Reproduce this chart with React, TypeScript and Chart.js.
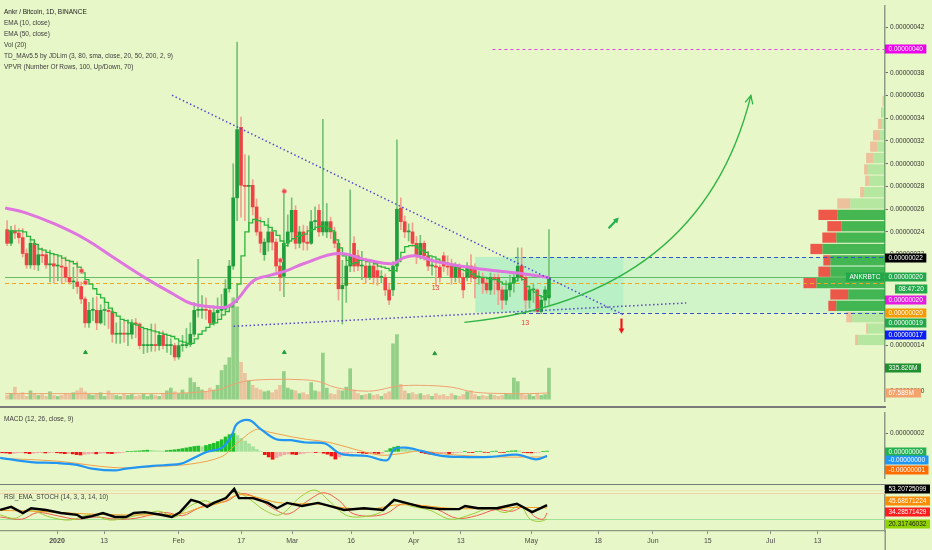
import React, { useEffect, useRef } from 'react';
import { Chart, registerables } from 'chart.js';

Chart.register(...registerables);

const FONT = "'Liberation Sans', Arial, sans-serif";
const BG = '#e8f7c8';
const AXIS_W = 47;
const AXIS_COLOR = '#8e9c86';

// ---------- time axis (day 0 = 2020-01-01) ----------
const FIRST_DAY = -14;
const X_MIN = -14.54;
const X_MAX = 211.2;
const X_TICK_DAYS = [0, 12, 31, 47, 60, 75, 91, 103, 121, 138, 152, 166, 182, 194];
const X_TICK_LABELS = ['2020', '13', 'Feb', '17', 'Mar', '16', 'Apr', '13', 'May', '18', 'Jun', '15', 'Jul', '13'];

// ---------- price candles (satoshi, 1e-8 BTC) ----------
const OPEN = [
  24.2, 23.0, 24.1, 23.9, 23.5, 22.1, 21.1, 23.0, 21.1, 22.0,
  22.0, 21.1, 21.2, 21.0, 21.0, 20.9, 20.0, 19.6, 19.6, 19.2,
  18.1, 16.0, 17.1, 17.1, 16.0, 17.1, 17.1, 17.0, 15.0, 15.0,
  15.1, 15.0, 15.0, 16.0, 15.9, 14.0, 14.0, 14.0, 14.1, 14.0,
  14.9, 14.0, 14.0, 14.0, 13.0, 14.0, 14.0, 14.1, 15.0, 17.1,
  17.1, 17.2, 17.1, 16.0, 16.9, 17.1, 17.2, 19.0, 21.0, 27.0,
  33.2, 28.1, 28.0, 28.1, 26.2, 24.0, 22.0, 23.1, 24.0, 23.1,
  21.0, 20.1, 23.0, 24.0, 25.9, 23.0, 24.0, 23.1, 23.0, 24.9,
  25.9, 24.0, 24.0, 24.9, 24.0, 23.0, 19.0, 19.3, 21.0, 23.0,
  21.9, 21.0, 21.0, 20.0, 21.0, 20.6, 20.0, 20.0, 18.9, 18.9,
  21.0, 26.1, 24.9, 24.0, 24.0, 23.0, 22.0, 23.0, 21.9, 21.0,
  21.0, 20.9, 21.9, 21.0, 21.0, 20.0, 20.9, 20.0, 20.0, 21.0,
  20.9, 20.0, 20.0, 19.5, 18.9, 20.0, 20.0, 18.9, 18.0, 18.9,
  19.5, 20.0, 21.0, 20.0, 18.0, 18.9, 18.9, 17.0, 18.0, 18.2,
];
const HIGH = [
  25.0, 24.5, 24.6, 24.3, 24.3, 22.5, 23.4, 23.3, 22.8, 22.6,
  22.3, 22.4, 22.1, 21.9, 21.7, 21.8, 21.5, 20.9, 21.4, 19.6,
  18.3, 17.8, 18.2, 18.3, 17.6, 18.1, 17.4, 17.3, 16.0, 16.2,
  16.2, 16.3, 16.3, 16.4, 16.0, 15.5, 15.4, 15.9, 15.9, 15.2,
  15.3, 14.8, 14.6, 14.2, 14.3, 14.9, 15.5, 16.0, 17.8, 21.6,
  18.4, 18.2, 17.4, 17.5, 18.2, 18.5, 19.8, 21.5, 30.0, 40.7,
  34.1, 30.8, 30.7, 28.6, 26.9, 25.3, 23.4, 25.2, 24.4, 23.4,
  21.4, 27.8, 25.5, 27.0, 26.3, 24.5, 24.6, 24.5, 25.9, 26.2,
  26.4, 33.9, 26.5, 25.3, 24.4, 23.3, 21.5, 21.8, 27.7, 23.6,
  22.4, 22.3, 21.7, 21.6, 21.3, 21.4, 20.6, 20.3, 19.5, 21.4,
  32.1, 27.0, 25.4, 24.7, 24.8, 23.6, 23.7, 23.2, 22.3, 21.7,
  21.3, 21.1, 22.2, 21.9, 21.6, 21.3, 21.2, 20.4, 21.3, 22.0,
  21.2, 20.5, 20.4, 19.9, 20.4, 20.3, 20.3, 19.2, 19.7, 20.2,
  20.4, 22.6, 22.6, 20.3, 19.2, 19.4, 19.0, 18.3, 19.2, 24.2,
];
const LOW = [
  22.8, 22.8, 23.4, 23.0, 21.8, 20.8, 20.8, 20.7, 20.6, 21.3,
  20.8, 19.6, 19.5, 19.7, 19.5, 19.6, 19.4, 19.0, 18.6, 17.7,
  15.6, 15.6, 16.2, 15.4, 15.9, 15.8, 15.5, 14.3, 14.2, 14.2,
  14.3, 14.0, 14.6, 14.7, 13.7, 13.3, 13.4, 13.5, 13.5, 13.6,
  13.7, 13.4, 13.2, 12.7, 12.8, 13.5, 13.8, 13.9, 14.8, 16.5,
  16.4, 16.3, 15.8, 15.8, 16.3, 16.6, 17.0, 18.7, 20.7, 25.0,
  25.3, 25.0, 24.0, 25.5, 23.7, 22.2, 21.5, 22.3, 22.4, 20.5,
  18.8, 18.3, 22.7, 23.5, 22.5, 22.6, 22.4, 22.4, 22.9, 24.2,
  23.6, 23.7, 23.5, 23.4, 22.6, 18.0, 15.9, 17.8, 20.5, 20.5,
  20.6, 19.8, 19.5, 19.8, 19.4, 19.3, 19.5, 18.4, 17.6, 18.4,
  20.5, 24.2, 23.5, 23.2, 22.7, 21.2, 21.6, 21.5, 20.6, 20.2,
  19.2, 19.6, 20.5, 20.2, 19.4, 19.6, 19.5, 18.2, 19.7, 19.6,
  18.2, 19.4, 18.6, 18.6, 18.5, 18.5, 17.6, 17.2, 17.6, 18.3,
  18.7, 19.7, 19.7, 17.2, 17.3, 17.8, 16.9, 16.8, 17.4, 17.6,
];
const CLOSE = [
  23.0, 24.1, 23.9, 23.5, 22.1, 21.1, 23.0, 21.1, 22.0, 21.9,
  21.1, 21.2, 21.0, 21.0, 20.9, 20.0, 19.6, 19.6, 19.2, 18.1,
  16.0, 17.1, 17.1, 16.0, 17.1, 17.1, 17.0, 15.0, 15.0, 15.1,
  15.0, 15.1, 16.0, 15.9, 14.0, 14.0, 14.0, 14.1, 14.0, 14.9,
  14.0, 14.0, 14.0, 13.0, 14.0, 14.0, 14.1, 15.0, 17.1, 17.1,
  17.2, 17.1, 16.0, 16.9, 17.1, 17.2, 19.0, 21.0, 27.0, 33.0,
  28.1, 28.0, 28.1, 26.2, 24.0, 23.0, 23.1, 24.0, 23.1, 21.0,
  20.0, 23.0, 24.0, 25.9, 23.0, 24.0, 23.1, 23.0, 24.9, 25.0,
  24.0, 24.9, 24.9, 24.0, 23.0, 19.0, 19.3, 21.0, 22.0, 21.0,
  21.0, 21.0, 20.0, 21.0, 20.0, 20.0, 20.0, 18.9, 18.0, 21.0,
  26.0, 24.9, 24.0, 24.0, 23.0, 22.0, 23.0, 21.9, 21.0, 21.0,
  20.9, 20.0, 21.0, 20.9, 20.0, 20.9, 20.0, 18.9, 21.0, 20.0,
  19.9, 20.0, 19.5, 18.9, 20.0, 19.9, 18.9, 18.0, 18.9, 19.5,
  20.0, 21.0, 20.0, 18.0, 18.9, 18.9, 17.0, 18.0, 18.9, 20.0,
];
// volume, millions of ANKR
const VOLUME = [
  40, 60, 130, 50, 70, 30, 90, 60, 40, 50,
  30, 80, 40, 30, 40, 60, 50, 70, 90, 120,
  80, 50, 40, 60, 70, 30, 90, 50, 40, 30,
  60, 40, 50, 30, 40, 60, 30, 50, 40, 30,
  60, 90, 120, 80, 60, 100, 60, 230, 180, 130,
  100, 80, 120, 100, 150, 310, 370, 450, 1100, 1000,
  400, 280, 200, 150, 120, 100, 80, 90, 70, 100,
  150, 300, 120, 100, 90, 60, 70, 50, 180, 90,
  80, 500, 120, 60, 50, 100, 90, 130, 330, 100,
  60, 40, 50, 60, 40, 50, 30, 60, 80, 600,
  700, 160, 90, 60, 70, 50, 60, 40, 50, 30,
  60, 40, 50, 30, 60, 40, 30, 50, 80, 90,
  50, 30, 40, 30, 50, 40, 30, 40, 60, 50,
  230, 190, 60, 40, 50, 30, 60, 40, 50, 336,
];
const VOL_MA: [number, number][] = [
  [-14.5, 60], [10, 60], [30, 65], [40, 100], [44, 160], [48, 200], [55, 215], [62, 210],
  [66, 190], [70, 130], [75, 95], [80, 90], [86, 140], [92, 150], [100, 130], [106, 75],
  [115, 60], [120, 60], [125, 67.6],
];
// EMA 10 (drawn stepped) and EMA 50
const EMA10 = [
  24.1, 24.1, 24.1, 24.1, 24.0, 23.6, 23.3, 22.9, 22.5, 22.4,
  22.2, 22.1, 22.0, 21.9, 21.7, 21.5, 21.4, 21.2, 20.9, 20.4,
  19.8, 19.4, 19.0, 18.5, 18.2, 17.8, 17.3, 16.9, 16.6, 16.3,
  16.2, 16.0, 15.9, 15.8, 15.6, 15.5, 15.4, 15.3, 15.2, 15.1,
  15.0, 14.9, 14.8, 14.6, 14.4, 14.3, 14.2, 14.2, 14.6, 15.0,
  15.3, 15.6, 15.9, 16.0, 16.3, 16.7, 17.0, 17.4, 17.8, 19.4,
  21.9, 24.0, 24.8, 25.1, 25.0, 24.9, 24.6, 24.4, 24.1, 23.7,
  23.2, 22.8, 23.2, 23.4, 23.6, 23.7, 23.8, 24.1, 24.2, 24.4,
  24.5, 24.5, 24.3, 24.1, 23.3, 22.6, 21.9, 21.5, 21.2, 21.3,
  21.5, 21.5, 21.4, 21.4, 21.2, 21.0, 20.9, 20.8, 20.6, 20.6,
  21.4, 22.2, 22.7, 22.8, 22.8, 22.6, 22.4, 22.2, 21.9, 21.8,
  21.6, 21.4, 21.3, 21.2, 21.0, 20.9, 20.7, 20.6, 20.5, 20.3,
  20.1, 20.0, 20.0, 19.9, 19.8, 19.8, 19.6, 19.4, 19.4, 19.5,
  19.7, 20.0, 19.8, 19.2, 18.9, 18.7, 18.4, 18.3, 18.5, 18.9,
];
const EMA50: [number, number][] = [
  [-14.5, 26.1], [-9.4, 25.7], [-1.8, 24.7], [5.9, 23.4], [13.5, 21.7], [21.2, 20.0], [28.8, 18.5],
  [33.2, 17.7], [39.0, 17.4], [42.3, 17.4], [44.9, 18.0], [49.2, 19.7], [53.6, 20.2], [57.7, 20.6],
  [62.0, 21.2], [70.9, 22.1], [78.6, 21.5], [85.0, 21.2], [87.5, 21.7], [90.8, 21.9], [96.0, 21.4],
  [106.0, 20.8], [116.3, 20.4], [125.0, 20.0],
];
const RED_DOTS: [number, number][] = [[5.1, 20.57], [6.1, 19.54], [56.1, 21.5], [57.1, 27.57]];
const GREEN_MARKS: [number, number][] = [[6.1, 13.4], [57.1, 13.4], [95.7, 13.3]];
const RED_COUNTS: [number, number][] = [[95.9, 19.1], [118.9, 15.95]];

// price axis
const PRICE_MIN = 9.12;
const PRICE_MAX = 43.88;
const PRICE_TICKS = [10, 14, 16, 18, 20, 22, 24, 26, 28, 30, 32, 34, 36, 38, 40, 42];
const VOL_MIN = -21;
const VOL_MAX = 4263;

// volume profile (rows of 1 sat, lower bound; relative volume, full plot width = VP_MAX)
const VP_LOW = [14, 15, 16, 17, 18, 19, 20, 21, 22, 23, 24, 25, 26, 27, 28, 29, 30, 31, 32, 33, 34, 35];
const VP_UP = [27, 17, 33, 49, 37, 69, 55, 55, 63, 49, 44, 48, 35, 21, 16, 17, 12, 8, 5, 3, 3, 2];
const VP_DOWN = [3, 2, 6, 8, 18, 13, 12, 7, 12, 14, 14, 19, 13, 4, 4, 4, 7, 7, 7, 4, 1, 0.5];
const VP_MAX = 885;
const VA_LOW = 17;
const VA_HIGH = 26;

// drawings (day, price)
const TRENDS: [number, number, number, number][] = [[28.3, 36.02, 144.1, 16.72], [44.1, 15.7, 160.2, 17.75]];
const ZONE_D = [106.1, 144.1, 211.2];
const ZONE_P = [16.9, 21.8];
const CURVE = [103.3, 16.04, 164.0, 18.26, 176.8, 36.0];
const GREEN_ARROW = [140.3, 24.32, 142.9, 25.26];
const RED_ARROW = [143.6, 16.38, 143.6, 15.05];

// right-hand tags
const PRICE_TAG_TEXT = ['0.00000040', '0.00000022', '0.00000020', '0.00000020', '0.00000020', '0.00000019', '0.00000017'];
const PRICE_TAG_AT = [40.1, 21.75, 20.05, 18.0, 16.9, 15.95, 14.93];
const PRICE_TAG_BG = ['#ee00ee', '#000000', '#22a84a', '#e31ee0', '#f59a00', '#22a84a', '#0b1ff2'];
const VOL_TAG_TEXT = ['335.826M', '67.589M'];
const VOL_TAG_AT = [335.826, 67.589];
const VOL_TAG_BG = ['#1f8f30', '#f5a36c'];

// ---------- MACD ----------
const MACD_MIN = -2.82;
const MACD_MAX = 4.18;
const MACD_TICKS = [-2, 0, 2];
const HIST = [
  -0.10, -0.12, -0.18, -0.15, -0.10, -0.08, -0.12, -0.20, -0.15, -0.10,
  -0.08, -0.12, -0.10, -0.05, -0.10, -0.14, -0.20, -0.16, -0.22, -0.30,
  -0.34, -0.28, -0.22, -0.18, -0.22, -0.16, -0.12, -0.16, -0.20, -0.15,
  -0.10, -0.05, 0.04, 0.05, 0.08, 0.10, 0.14, 0.18, 0.16, 0.12,
  0.10, 0.08, 0.14, 0.18, 0.22, 0.28, 0.35, 0.42, 0.50, 0.58,
  0.62, 0.55, 0.68, 0.80, 0.92, 1.10, 1.30, 1.60, 1.85, 2.00,
  1.75, 1.45, 1.15, 0.85, 0.55, 0.25, 0.05, -0.30, -0.55, -0.80,
  -0.62, -0.45, -0.30, -0.22, -0.25, -0.30, -0.22, -0.15, -0.08, -0.05,
  -0.08, -0.05, -0.15, -0.25, -0.45, -0.78, -0.55, -0.35, -0.20, -0.10,
  -0.05, -0.08, -0.15, -0.18, -0.12, -0.15, -0.18, -0.12, 0.10, 0.35,
  0.50, 0.60, 0.45, 0.32, 0.20, 0.10, 0.05, -0.10, -0.18, -0.25,
  -0.28, -0.22, -0.18, -0.15, -0.20, -0.12, -0.08, -0.05, 0.04, -0.06,
  -0.08, 0.05, 0.06, -0.04, -0.06, 0.05, 0.08, -0.05, -0.07, 0.04,
  0.10, 0.12, 0.08, -0.06, -0.10, -0.12, -0.08, -0.05, 0.04, 0.08,
];
const MACD_LINE: [number, number][] = [
  [-14.5, -0.64], [-6.6, -1.1], [0, -1.2], [5.1, -1.4], [8.9, -1.8], [14.8, -2.0], [17.6, -1.8],
  [24.5, -1.5], [31.4, -1.3], [34.2, -0.8], [38.3, 0], [42.1, 0.45], [44.6, 1.8], [45.9, 3.0],
  [49.0, 3.4], [51.8, 2.5], [55.9, 1.35], [59.7, 1.25], [63.5, 1.0], [68.4, 0.9], [71.4, 0],
  [73.2, -0.3], [79.1, -0.45], [84.2, -0.9], [86.0, 0.3], [89.0, 0.45], [92.9, 0.1], [97.7, -0.4],
  [102.6, -0.55], [110.5, -0.55], [117.3, -0.3], [122.2, -0.8], [125.0, -0.45],
];
const SIGNAL_LINE: [number, number][] = [
  [-14.5, -0.7], [0, -1.0], [14.8, -1.7], [24.5, -1.6], [34.2, -1.3], [42.1, -0.5], [45.9, 0.9],
  [50.8, 2.4], [54.3, 2.1], [62.0, 1.45], [69.6, 1.0], [75.3, 0.35], [82.4, -0.35], [87.5, -0.2],
  [92.6, 0.1], [100.3, -0.3], [113.0, -0.55], [125.0, -0.55],
];
const MACD_TAG_TEXT = ['0.00000000', '-0.00000000', '-0.00000001'];
const MACD_TAG_AT = [0, -0.91, -2.0];
const MACD_TAG_BG = ['#22b14c', '#2196f3', '#ff6d00'];

// ---------- RSI / EMA / STOCH ----------
const RSI_MIN = -6.8;
const RSI_MAX = 100;
const RSI_LEVELS = [86, 80, 20];
const RSI_LINE: [number, number][] = [
  [-14.5, 41], [-11.7, 48], [-8.7, 34], [-6.6, 45], [-2.8, 41], [1.0, 34], [5.1, 30], [6.4, 23],
  [8.9, 27], [11.7, 34], [14.8, 25], [17.6, 25], [19.6, 34], [22.4, 36], [26.5, 30], [29.3, 25],
  [31.4, 36], [34.2, 64], [36.2, 59], [38.3, 48], [40.0, 57], [43.1, 68], [45.2, 89], [46.4, 68],
  [50.0, 68], [53.8, 57], [56.1, 45], [58.7, 57], [62.5, 50], [66.6, 57], [70.4, 48], [73.2, 41],
  [78.3, 45], [83.2, 41], [86.0, 64], [89.0, 57], [92.9, 48], [97.7, 43], [102.6, 43], [104.1, 50],
  [107.4, 45], [112.2, 45], [117.3, 55], [121.2, 36], [125.0, 52],
];
const RSI_EMA: [number, number][] = [
  [-14.5, 40], [-5, 38], [5, 33], [15, 30], [25, 30], [32, 33], [36, 45], [42, 58], [46, 75],
  [50, 72], [55, 60], [60, 55], [66, 55], [72, 47], [80, 43], [86, 52], [92, 52], [100, 45],
  [110, 44], [118, 47], [125, 45.7],
];
const STOCH_K: [number, number][] = [
  [-14.5, 30], [-10.7, 22], [-6.9, 40], [-1.8, 25], [3.3, 18], [8.4, 30], [13.5, 18], [18.6, 25],
  [23.7, 35], [26.3, 38], [30.1, 25], [33.9, 50], [37.8, 62], [40.3, 55], [45.4, 82], [49.2, 65],
  [53.0, 40], [56.9, 30], [62.0, 70], [65.8, 86], [69.6, 60], [73.5, 30], [77.3, 25], [82.4, 35],
  [86.2, 60], [90.1, 50], [95.2, 40], [100.3, 20], [105.4, 30], [110.5, 45], [114.3, 35],
  [118.1, 50], [120.7, 20], [123.2, 15], [125.0, 20.3],
];
const STOCH_D: [number, number][] = [
  [-14.5, 25], [-9, 20], [-5, 35], [0, 28], [5, 20], [10, 25], [15, 20], [20, 22], [25, 32],
  [28, 35], [32, 28], [36, 45], [40, 58], [43, 60], [47, 78], [51, 68], [55, 45], [59, 32],
  [64, 62], [68, 80], [72, 62], [75, 35], [79, 27], [84, 33], [88, 55], [92, 52], [97, 42],
  [102, 22], [107, 28], [112, 42], [116, 38], [119, 47], [122, 25], [124, 20], [125, 34.3],
];
const RSI_TAG_TEXT = ['53.20725099', '45.68671224', '34.28571429', '20.31746032'];
const RSI_TAG_AT = [88.6, 61.4, 36.4, 9.1];
const RSI_TAG_BG = ['#000000', '#ff8c00', '#ff1c1c', '#92d400'];
const RSI_TAG_FG = ['#ffffff', '#ffffff', '#ffffff', '#1a1a1a'];

const LEGEND = [
  'Ankr / Bitcoin, 1D, BINANCE',
  'EMA (10, close)',
  'EMA (50, close)',
  'Vol (20)',
  'TD_MAv5.5 by JDLim (3, 80, sma, close, 20, 50, 200, 2, 9)',
  'VPVR (Number Of Rows, 100, Up/Down, 70)',
];

const fmtPrice = (v: number) => (v / 1e8).toFixed(8);
const pts = (arr: [number, number][]) => arr.map(([x, y]) => ({ x, y }));
const DAYS = OPEN.map((_, i) => FIRST_DAY + i);

function tag(ctx: any, x: number, y: number, text: string, bg: string, fg: string, minW = 0) {
  ctx.save();
  ctx.font = `6.5px ${FONT}`;
  const w = Math.max(minW, ctx.measureText(text).width + 7);
  const yy = Math.round(y);
  ctx.fillStyle = bg;
  ctx.fillRect(x, yy - 4.5, w, 9);
  ctx.fillStyle = fg;
  ctx.textAlign = 'left';
  ctx.textBaseline = 'middle';
  ctx.fillText(text, x + 3.5, yy + 0.5);
  ctx.restore();
}

function arrow(ctx: any, x0: number, y0: number, x1: number, y1: number, color: string, head: number, width: number) {
  const ang = Math.atan2(y1 - y0, x1 - x0);
  ctx.save();
  ctx.strokeStyle = color;
  ctx.fillStyle = color;
  ctx.lineWidth = width;
  ctx.beginPath();
  ctx.moveTo(x0, y0);
  ctx.lineTo(x1 - Math.cos(ang) * head * 0.6, y1 - Math.sin(ang) * head * 0.6);
  ctx.stroke();
  ctx.beginPath();
  ctx.moveTo(x1, y1);
  ctx.lineTo(x1 - head * Math.cos(ang - 0.5), y1 - head * Math.sin(ang - 0.5));
  ctx.lineTo(x1 - head * Math.cos(ang + 0.5), y1 - head * Math.sin(ang + 0.5));
  ctx.closePath();
  ctx.fill();
  ctx.restore();
}

const yAxisBase = (extra: any) => ({
  type: 'linear',
  position: 'right',
  afterFit: (s: any) => { s.width = AXIS_W; },
  grid: { drawOnChartArea: false, drawTicks: true, tickLength: 3, tickColor: '#6d6d6d' },
  border: { color: AXIS_COLOR, width: 1.5 },
  ticks: { font: { size: 6.5, family: FONT }, color: '#333', padding: 2 },
  ...extra,
});

const mainPlugin = {
  id: 'mainDecor',
  beforeDatasetsDraw(chart: any) {
    const { ctx, chartArea: a, scales } = chart;
    const x = scales.x, y = scales.y;
    ctx.save();
    ctx.beginPath();
    ctx.rect(a.left, a.top, a.right - a.left, a.bottom - a.top);
    ctx.clip();
    // zone boxes
    const yz0 = y.getPixelForValue(ZONE_P[1]);
    const yz1 = y.getPixelForValue(ZONE_P[0]);
    ctx.fillStyle = 'rgba(0, 215, 190, 0.20)';
    ctx.fillRect(x.getPixelForValue(ZONE_D[0]), yz0, x.getPixelForValue(ZONE_D[1]) - x.getPixelForValue(ZONE_D[0]), yz1 - yz0);
    ctx.fillStyle = 'rgba(0, 215, 200, 0.10)';
    ctx.fillRect(x.getPixelForValue(ZONE_D[1]), yz0, x.getPixelForValue(ZONE_D[2]) - x.getPixelForValue(ZONE_D[1]), yz1 - yz0);
    // volume profile, anchored to the price axis, widths relative to the plot width
    const unit = (a.right - a.left) / VP_MAX;
    VP_LOW.forEach((lo, i) => {
      const yt = y.getPixelForValue(lo + 0.95);
      const yb = y.getPixelForValue(lo + 0.05);
      const inVA = lo >= VA_LOW && lo < VA_HIGH;
      const xr = a.right;
      const xu = xr - VP_UP[i] * unit;
      const xd = xu - VP_DOWN[i] * unit;
      ctx.fillStyle = inVA ? 'rgba(40, 170, 60, 0.85)' : 'rgba(90, 200, 90, 0.35)';
      ctx.fillRect(xu, yt, xr - xu, yb - yt);
      ctx.fillStyle = inVA ? 'rgba(238, 60, 50, 0.85)' : 'rgba(240, 150, 120, 0.55)';
      ctx.fillRect(xd, yt, xu - xd, yb - yt);
    });
    // horizontal price lines
    const hline = (p: number, d0: number, color: string, dash: number[], w = 1) => {
      const yy = Math.round(y.getPixelForValue(p)) + 0.5;
      ctx.save();
      ctx.strokeStyle = color;
      ctx.lineWidth = w;
      ctx.setLineDash(dash);
      ctx.beginPath();
      ctx.moveTo(x.getPixelForValue(d0), yy);
      ctx.lineTo(a.right, yy);
      ctx.stroke();
      ctx.restore();
    };
    hline(20.05, X_MIN, 'rgba(60, 170, 70, 0.75)', []);
    hline(19.5, X_MIN, '#f3a622', [4, 3]);
    hline(40.1, 110.5, '#e246e2', [3, 3]);
    hline(ZONE_P[1], 116.3, '#3553c9', [4, 3]);
    hline(ZONE_P[0], 116.3, '#3553c9', [4, 3]);
    ctx.restore();
  },
  afterDatasetsDraw(chart: any) {
    const { ctx, chartArea: a, scales } = chart;
    const x = scales.x, y = scales.y;
    const px = (d: number) => x.getPixelForValue(d);
    const py = (p: number) => y.getPixelForValue(p);
    ctx.save();
    ctx.beginPath();
    ctx.rect(a.left, a.top, a.right - a.left, a.bottom - a.top);
    ctx.clip();
    // dotted trendlines
    ctx.strokeStyle = '#5547d0';
    ctx.lineWidth = 1.5;
    ctx.setLineDash([1.5, 2.5]);
    TRENDS.forEach(([d0, p0, d1, p1]) => {
      ctx.beginPath();
      ctx.moveTo(px(d0), py(p0));
      ctx.lineTo(px(d1), py(p1));
      ctx.stroke();
    });
    ctx.setLineDash([]);
    // projected curve
    const [cd0, cp0, cd1, cp1, cd2, cp2] = CURVE;
    ctx.strokeStyle = '#2fb545';
    ctx.lineWidth = 1.3;
    ctx.beginPath();
    ctx.moveTo(px(cd0), py(cp0));
    ctx.quadraticCurveTo(px(cd1), py(cp1), px(cd2), py(cp2));
    ctx.stroke();
    const ex = px(cd2), ey = py(cp2);
    const ang = Math.atan2(ey - py(cp1), ex - px(cd1));
    ctx.beginPath();
    ctx.moveTo(ex - 9 * Math.cos(ang - 0.45), ey - 9 * Math.sin(ang - 0.45));
    ctx.lineTo(ex, ey);
    ctx.lineTo(ex - 9 * Math.cos(ang + 0.45), ey - 9 * Math.sin(ang + 0.45));
    ctx.stroke();
    // small arrows
    arrow(ctx, px(GREEN_ARROW[0]), py(GREEN_ARROW[1]), px(GREEN_ARROW[2]), py(GREEN_ARROW[3]), '#22b14c', 6, 2.2);
    arrow(ctx, px(RED_ARROW[0]), py(RED_ARROW[1]), px(RED_ARROW[2]), py(RED_ARROW[3]), '#f01818', 6, 2.2);
    // TD 13 counts
    ctx.fillStyle = '#e53935';
    ctx.font = `7px ${FONT}`;
    ctx.textAlign = 'center';
    ctx.textBaseline = 'middle';
    RED_COUNTS.forEach(([d, p]) => ctx.fillText('13', px(d), py(p)));
    ctx.restore();
  },
  afterDraw(chart: any) {
    const { ctx, chartArea: a, scales } = chart;
    const y = scales.y, yv = scales.yv;
    const xr = a.right;
    PRICE_TAG_TEXT.forEach((t, i) => tag(ctx, xr, y.getPixelForValue(PRICE_TAG_AT[i]), t, PRICE_TAG_BG[i], '#fff', 41));
    ctx.save();
    ctx.font = `6.5px ${FONT}`;
    const wA = ctx.measureText('ANKRBTC').width + 7;
    ctx.restore();
    tag(ctx, xr - wA - 1, y.getPixelForValue(20.05), 'ANKRBTC', '#22a84a', '#fff');
    tag(ctx, xr + 10, y.getPixelForValue(18.95), '08:47:20', '#22a84a', '#fff');
    VOL_TAG_TEXT.forEach((t, i) => tag(ctx, xr, yv.getPixelForValue(VOL_TAG_AT[i]), t, VOL_TAG_BG[i], '#fff', 36));
  },
};

const macdPlugin = {
  id: 'macdDecor',
  afterDraw(chart: any) {
    const { ctx, chartArea: a, scales } = chart;
    MACD_TAG_TEXT.forEach((t, i) => tag(ctx, a.right, scales.y.getPixelForValue(MACD_TAG_AT[i]), t, MACD_TAG_BG[i], '#fff', 41));
  },
};

const rsiPlugin = {
  id: 'rsiDecor',
  beforeDatasetsDraw(chart: any) {
    const { ctx, chartArea: a, scales } = chart;
    const colors = ['#efe3b6', '#f2d2a6', '#9fe39a'];
    RSI_LEVELS.forEach((lv, i) => {
      const yy = Math.round(scales.y.getPixelForValue(lv)) + 0.5;
      ctx.save();
      ctx.strokeStyle = colors[i];
      ctx.lineWidth = 1.2;
      ctx.beginPath();
      ctx.moveTo(a.left, yy);
      ctx.lineTo(a.right, yy);
      ctx.stroke();
      ctx.restore();
    });
  },
  afterDraw(chart: any) {
    const { ctx, chartArea: a, scales } = chart;
    RSI_TAG_TEXT.forEach((t, i) => tag(ctx, a.right, scales.y.getPixelForValue(RSI_TAG_AT[i]), t, RSI_TAG_BG[i], RSI_TAG_FG[i], 43));
    ctx.save();
    ctx.strokeStyle = AXIS_COLOR;
    ctx.lineWidth = 1.5;
    ctx.beginPath();
    ctx.moveTo(a.right + 0.25, a.bottom);
    ctx.lineTo(a.right + 0.25, chart.height);
    ctx.stroke();
    ctx.restore();
  },
};

const baseOptions = {
  responsive: false,
  animation: false,
  devicePixelRatio: 1,
  events: [],
  layout: { padding: 0 },
  plugins: { legend: { display: false }, tooltip: { enabled: false } },
};

export default function App() {
  const r1 = useRef<HTMLCanvasElement>(null);
  const r2 = useRef<HTMLCanvasElement>(null);
  const r3 = useRef<HTMLCanvasElement>(null);

  useEffect(() => {
    document.body.style.margin = '0';
    const up = CLOSE.map((c, i) => c >= OPEN[i]);
    const xHidden = { type: 'linear', min: X_MIN, max: X_MAX, display: false, offset: false };

    const c1 = new Chart(r1.current as any, {
      type: 'bar',
      data: {
        datasets: [
          {
            type: 'bar', data: DAYS.map((d, i) => ({ x: d, y: VOLUME[i] })), xAxisID: 'x', yAxisID: 'yv',
            backgroundColor: up.map((u) => (u ? 'rgba(76, 175, 80, 0.55)' : 'rgba(239, 100, 80, 0.35)')),
            barThickness: 3, grouped: false, order: 10,
          },
          {
            type: 'line', data: pts(VOL_MA), xAxisID: 'x', yAxisID: 'yv', borderColor: '#f0a072',
            borderWidth: 1, pointRadius: 0, tension: 0.35, order: 9,
          },
          {
            type: 'bar', data: DAYS.map((d, i) => ({ x: d, y: [LOW[i], HIGH[i]] })), xAxisID: 'x', yAxisID: 'y',
            backgroundColor: up.map((u) => (u ? '#76c276' : '#f0a08e')), barThickness: 1, grouped: false, order: 6,
          },
          {
            type: 'bar', data: DAYS.map((d, i) => ({ x: d, y: [Math.min(OPEN[i], CLOSE[i]), Math.max(OPEN[i], CLOSE[i])] })),
            xAxisID: 'x', yAxisID: 'y', backgroundColor: up.map((u) => (u ? '#1f9e3b' : '#ee4343')),
            barThickness: 3, minBarLength: 1, grouped: false, order: 5,
          },
          {
            type: 'line', data: DAYS.map((d, i) => ({ x: d, y: EMA10[i] })), xAxisID: 'x', yAxisID: 'y',
            stepped: true, borderColor: '#2cb53c', borderWidth: 1.3, pointRadius: 0, order: 4,
          },
          {
            type: 'line', data: pts(EMA50), xAxisID: 'x', yAxisID: 'y', borderColor: '#df76df',
            borderWidth: 3, pointRadius: 0, tension: 0.4, order: 3,
          },
          {
            type: 'line', data: pts(RED_DOTS), xAxisID: 'x', yAxisID: 'y', showLine: false,
            pointRadius: 2.3, pointBackgroundColor: '#e84a4a', pointBorderColor: '#f5a0a0', pointBorderWidth: 1, order: 1,
          },
          {
            type: 'line', data: pts(GREEN_MARKS), xAxisID: 'x', yAxisID: 'y', showLine: false,
            pointStyle: 'triangle', pointRadius: 2.2, pointBackgroundColor: '#1e9e3a', pointBorderColor: '#1e9e3a', order: 1,
          },
        ],
      },
      options: {
        ...baseOptions,
        scales: {
          x: xHidden,
          y: yAxisBase({
            min: PRICE_MIN, max: PRICE_MAX,
            afterBuildTicks: (s: any) => { s.ticks = PRICE_TICKS.map((v) => ({ value: v })); },
            ticks: { font: { size: 6.5, family: FONT }, color: '#333', padding: 2, callback: (v: any) => fmtPrice(Number(v)) },
          }),
          yv: { type: 'linear', position: 'right', display: false, min: VOL_MIN, max: VOL_MAX },
        },
      } as any,
      plugins: [mainPlugin],
    } as any);

    const c2 = new Chart(r2.current as any, {
      type: 'bar',
      data: {
        datasets: [
          {
            type: 'bar', data: DAYS.map((d, i) => ({ x: d, y: HIST[i] })), xAxisID: 'x', yAxisID: 'y',
            backgroundColor: HIST.map((h, i) => {
              const prev = i > 0 ? HIST[i - 1] : h;
              if (h >= 0) return h >= prev ? '#1fbf2a' : '#a6e09c';
              return h <= prev ? '#f01414' : '#f3a8a8';
            }),
            barThickness: 3, grouped: false, order: 5,
          },
          {
            type: 'line', data: pts(SIGNAL_LINE), xAxisID: 'x', yAxisID: 'y', borderColor: '#f2a04c',
            borderWidth: 1, pointRadius: 0, tension: 0.35, order: 3,
          },
          {
            type: 'line', data: pts(MACD_LINE), xAxisID: 'x', yAxisID: 'y', borderColor: '#2196f3',
            borderWidth: 2.2, pointRadius: 0, tension: 0.35, order: 2,
          },
        ],
      },
      options: {
        ...baseOptions,
        scales: {
          x: xHidden,
          y: yAxisBase({
            min: MACD_MIN, max: MACD_MAX,
            afterBuildTicks: (s: any) => { s.ticks = MACD_TICKS.map((v) => ({ value: v })); },
            ticks: { font: { size: 6.5, family: FONT }, color: '#333', padding: 2, callback: (v: any) => fmtPrice(Number(v)) },
          }),
        },
      } as any,
      plugins: [macdPlugin],
    } as any);

    const c3 = new Chart(r3.current as any, {
      type: 'line',
      data: {
        datasets: [
          { data: pts(STOCH_D), borderColor: '#f05a4a', borderWidth: 1, pointRadius: 0, tension: 0.35, order: 4 },
          { data: pts(STOCH_K), borderColor: '#9ccc3a', borderWidth: 1, pointRadius: 0, tension: 0.35, order: 3 },
          { data: pts(RSI_EMA), borderColor: '#f39a1e', borderWidth: 1, pointRadius: 0, tension: 0.35, order: 2 },
          { data: pts(RSI_LINE), borderColor: '#000000', borderWidth: 2.4, pointRadius: 0, tension: 0, order: 1 },
        ],
      },
      options: {
        ...baseOptions,
        scales: {
          x: {
            type: 'linear', min: X_MIN, max: X_MAX, offset: false,
            afterBuildTicks: (s: any) => { s.ticks = X_TICK_DAYS.map((v) => ({ value: v })); },
            afterFit: (s: any) => { s.height = 19; },
            ticks: {
              autoSkip: false, maxRotation: 0, minRotation: 0, padding: 3, color: '#4a4a4a',
              callback: (v: any) => { const k = X_TICK_DAYS.indexOf(Number(v)); return k >= 0 ? X_TICK_LABELS[k] : ''; },
              font: (c: any) => ({ size: 7, family: FONT, weight: X_TICK_LABELS[c.index] === '2020' ? 'bold' : 'normal' }),
            },
            grid: { drawOnChartArea: false, drawTicks: true, tickLength: 3, tickColor: '#8a8a8a' },
            border: { color: '#8a9a80', width: 1.2 },
          },
          y: yAxisBase({
            min: RSI_MIN, max: RSI_MAX,
            ticks: { display: false },
            grid: { display: false },
          }),
        },
      } as any,
      plugins: [rsiPlugin],
    } as any);

    return () => { c1.destroy(); c2.destroy(); c3.destroy(); };
  }, []);

  const textStyle: any = { position: 'absolute', left: 4, fontSize: '6.5px', lineHeight: '11px', color: '#3c3c3c', whiteSpace: 'nowrap' };
  return (
    <div style={{ position: 'fixed', left: 0, top: 0, width: 932, height: 550, background: BG, overflow: 'hidden', fontFamily: FONT }}>
      <canvas ref={r1} width={932} height={407} style={{ position: 'absolute', left: 0, top: 0, width: 932, height: 407 }} />
      <canvas ref={r2} width={932} height={77} style={{ position: 'absolute', left: 0, top: 407, width: 932, height: 77 }} />
      <canvas ref={r3} width={932} height={66} style={{ position: 'absolute', left: 0, top: 484, width: 932, height: 66 }} />
      <div style={{ position: 'absolute', left: 0, top: 406, width: 886, height: 1.5, background: '#7a7a7a' }} />
      <div style={{ position: 'absolute', left: 0, top: 483.5, width: 886, height: 1.5, background: '#7a7a7a' }} />
      <div style={{ ...textStyle, top: 5.5 }}>
        {LEGEND.map((t, i) => (
          <div key={i} style={{ color: i === 0 ? '#222' : '#3c3c3c' }}>{t}</div>
        ))}
      </div>
      <div style={{ ...textStyle, top: 412.5 }}>MACD (12, 26, close, 9)</div>
      <div style={{ ...textStyle, top: 490.5 }}>RSI_EMA_STOCH (14, 3, 3, 14, 10)</div>
    </div>
  );
}
